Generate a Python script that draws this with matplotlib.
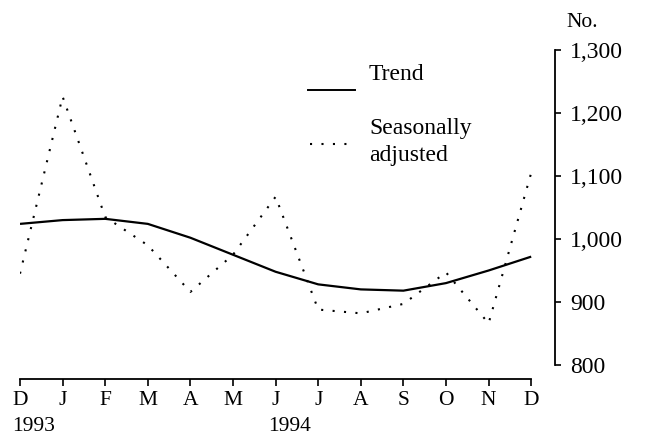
import matplotlib
matplotlib.use("Agg")
import matplotlib.pyplot as plt
from matplotlib.lines import Line2D

# Data
months = ["D", "J", "F", "M", "A", "M", "J", "J", "A", "S", "O", "N", "D"]
years = {0: "1993", 6: "1994"}
trend = [1024, 1030, 1032, 1024, 1002, 975, 948, 928, 920, 918, 930, 950, 972]
seas_adj = [945, 1226, 1035, 990, 916, 975, 1067, 888, 882, 897, 947, 866, 1105]
y_ticks = [800, 900, 1000, 1100, 1200, 1300]

plt.rcParams['font.family'] = ['Liberation Serif', 'DejaVu Serif']

fig = plt.figure(figsize=(6.48, 4.42), dpi=100)
ax = fig.add_axes([20 / 648, 1 - 365 / 442, 535 / 648, 315 / 442])

x = list(range(len(months)))
ax.plot(x, trend, color="black", linewidth=1.6, solid_capstyle="butt")
ax.plot(x, seas_adj, color="black", linewidth=1.5,
        linestyle=(0, (1, 4.5)), dash_capstyle="butt")

ax.set_xlim(0, 535 / 42.6)
ax.set_ylim(800, 1300)

# spines
ax.spines["left"].set_visible(False)
ax.spines["top"].set_visible(False)
ax.spines["bottom"].set_bounds(0, 12)
ax.spines["bottom"].set_position(("outward", 10))
ax.spines["right"].set_bounds(800, 1300)
for s in ("bottom", "right"):
    ax.spines[s].set_linewidth(1.3)

ax.set_xticks(x)
ax.set_xticklabels(months, fontsize=15.5)
ax.tick_params(axis="x", direction="out", length=5, width=1.2, pad=4)

ax.yaxis.tick_right()
ax.set_yticks(y_ticks)
ax.set_yticklabels([f"{v:,}" for v in y_ticks], fontsize=17)
ax.tick_params(axis="y", direction="out", length=4, width=1.2, pad=7)

# year labels under the month letters
for i, yr in years.items():
    ax.annotate(yr, xy=(i, 0), xycoords=("data", "axes fraction"),
                xytext=(-5.5, -44), textcoords="offset points",
                ha="left", va="center", fontsize=15.5)

# unit label
ax.annotate("No.", xy=(1, 1), xycoords="axes fraction",
            xytext=(8.5, 20), textcoords="offset points",
            ha="left", va="center", fontsize=15.5)

# legend drawn by hand
fig.add_artist(Line2D([308 / 648, 355 / 648], [1 - 90 / 442, 1 - 90 / 442],
                      color="black", linewidth=1.4))
fig.text(369 / 648, 1 - 74 / 442, "Trend", fontsize=17, va="center")
fig.add_artist(Line2D([310 / 648, 355 / 648], [1 - 144 / 442, 1 - 144 / 442],
                      color="black", linewidth=1.5, linestyle=(0, (1, 4.5))))
fig.text(369 / 648, 1 - 128 / 442, "Seasonally", fontsize=17, va="center")
fig.text(369 / 648, 1 - 155 / 442, "adjusted", fontsize=17, va="center")

fig.savefig("out.png", dpi=100)
